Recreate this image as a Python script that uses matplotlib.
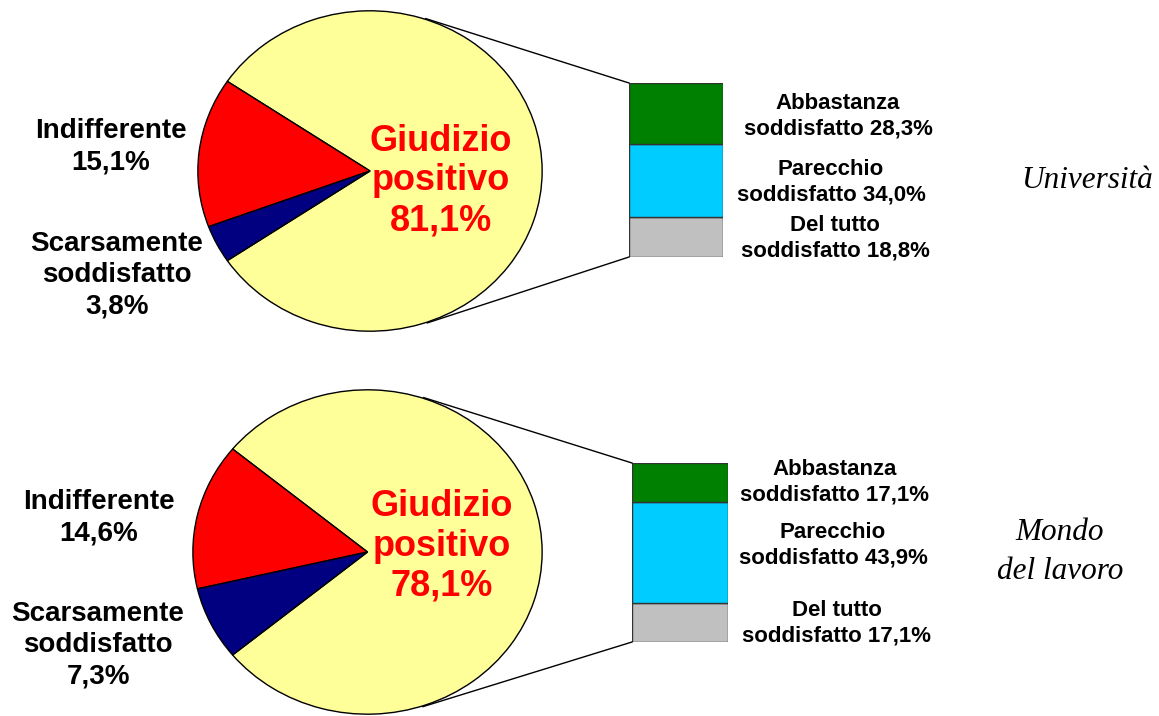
import matplotlib.pyplot as plt
import numpy as np

# Dati: giudizio complessivo (torta) e dettaglio del giudizio positivo (barra)
pie_labels = ["Giudizio positivo", "Indifferente", "Scarsamente soddisfatto"]
uni_pie = [81.1, 15.1, 3.8]
lav_pie = [78.1, 14.6, 7.3]

bar_first = ["Del tutto", "Parecchio", "Abbastanza"]
uni_bar = [18.8, 34.0, 28.3]
lav_bar = [17.1, 43.9, 17.1]

pie_colors = ["#FFFF99", "#FF0000", "#000080"]
bar_colors = ["#C0C0C0", "#00CCFF", "#008000"]

W, H = 1159, 716
fig = plt.figure(figsize=(W / 100, H / 100), dpi=100)

# asse trasparente in pixel per testi e linee di collegamento (sopra a tutto)
bg = fig.add_axes([0, 0, 1, 1])
bg.set_xlim(0, W)
bg.set_ylim(H, 0)
bg.axis("off")
bg.set_zorder(10)


def px_axes(x0, y0, x1, y1):
    return fig.add_axes([x0 / W, 1 - y1 / H, (x1 - x0) / W, (y1 - y0) / H])


def fmt(v):
    return f"{v:.1f}".replace(".", ",") + "%"


def tangent(cx, cy, a, b, px, py, sign):
    # punto di tangenza sull'ellisse visto da (px, py)
    ux, uy = (px - cx) / a, (py - cy) / b
    r = np.hypot(ux, uy)
    phi = np.arctan2(uy, ux) + sign * np.arccos(1 / r)
    return cx + a * np.cos(phi), cy + b * np.sin(phi)


bold = dict(fontweight="bold", family="Liberation Sans", ha="center", va="center")


def panel(pie_vals, bar_vals, pie_box, bar_box, txt, side_label, side_pos):
    # torta
    ax = px_axes(*pie_box)
    ax.pie(pie_vals, colors=pie_colors, startangle=-pie_vals[0] * 3.6 / 2,
           counterclock=True, wedgeprops=dict(edgecolor="black", linewidth=1))
    ax.set_aspect("auto")
    ax.set_xlim(-1.005, 1.005)
    ax.set_ylim(-1.005, 1.005)
    ax.axis("off")

    # barra impilata
    bx = px_axes(*bar_box)
    bottom = 0
    for v, c in zip(bar_vals, bar_colors):
        bx.bar(0, v, bottom=bottom, width=1, color=c, edgecolor="#333333", linewidth=1)
        bottom += v
    bx.set_xlim(-0.5, 0.5)
    bx.set_ylim(0, sum(bar_vals))
    bx.axis("off")

    # linee di collegamento
    x0, y0, x1, y1 = pie_box
    cx, cy, a, b = (x0 + x1) / 2, (y0 + y1) / 2, (x1 - x0) / 2, (y1 - y0) / 2
    tx, ty = tangent(cx, cy, a, b, bar_box[0], bar_box[1], -1)
    bg.plot([tx, bar_box[0]], [ty, bar_box[1]], color="black", lw=1)
    tx, ty = tangent(cx, cy, a, b, bar_box[0], bar_box[3], 1)
    bg.plot([tx, bar_box[0]], [ty, bar_box[3]], color="black", lw=1)

    # etichette
    bg.text(*txt["pos"], "Giudizio\npositivo\n" + fmt(pie_vals[0]),
            color="#FF0000", fontsize=26, linespacing=1.18, **bold)
    bg.text(*txt["ind"], "Indifferente\n" + fmt(pie_vals[1]),
            fontsize=20, linespacing=1.26, **bold)
    bg.text(*txt["sca"], "Scarsamente\nsoddisfatto\n" + fmt(pie_vals[2]),
            fontsize=20, linespacing=1.26, **bold)
    for first, v, (xx, yy) in zip(bar_first, bar_vals, txt["bar"]):
        bg.text(xx, yy, first + "\nsoddisfatto " + fmt(v),
                fontsize=16, linespacing=1.28, **bold)
    bg.text(*side_pos, side_label, ha="center", va="center",
            fontsize=22.5, style="italic", family="Liberation Serif", linespacing=1.42)


panel(uni_pie, uni_bar, (197, 10, 543, 332), (629, 83, 723, 257),
      dict(pos=(441, 181), ind=(111, 147), sca=(117, 275),
           bar=[(835, 238), (831, 182), (838, 116)]),
      "Università", (1087, 180))

panel(lav_pie, lav_bar, (192, 389, 543, 715), (632, 463, 728, 642),
      dict(pos=(442, 546), ind=(99, 518), sca=(98, 645),
           bar=[(837, 623), (833, 545), (835, 482)]),
      "Mondo\ndel lavoro", (1060, 552))

fig.savefig("out.png", dpi=100)
